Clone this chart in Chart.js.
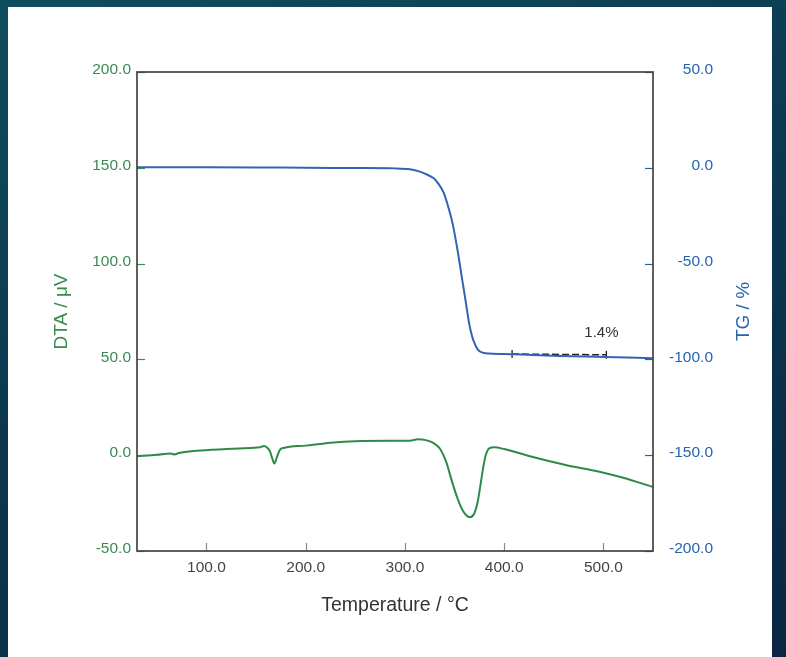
<!DOCTYPE html>
<html>
<head>
<meta charset="utf-8">
<script src="https://cdn.jsdelivr.net/npm/chart.js@4.4.1/dist/chart.umd.min.js"></script>
<style>
  html, body {
    margin: 0;
    padding: 0;
    width: 786px;
    height: 657px;
    overflow: hidden;
    background: linear-gradient(160deg, #0f4d5e 0%, #0b3850 45%, #0a2642 100%);
  }
  .card {
    position: absolute;
    left: 8px;
    top: 7px;
    width: 764px;
    height: 650px;
    background: #fff;
  }
  #myChart {
    position: absolute;
    left: 0;
    top: 0;
  }
</style>
</head>
<body>
<div class="card"></div>
<canvas id="myChart" width="786" height="657"></canvas>
<script>
// DTA curve (µV) vs temperature (°C)
const dtaTemp = [30, 50, 64, 68, 72, 90, 120, 145, 154, 158, 161, 164, 166, 168.5, 171, 174, 178, 200, 225, 250, 290, 305, 313, 320, 328, 335, 341.5, 348, 353, 358, 361.5, 365.5, 370, 373, 376, 378.5, 381, 385, 390, 400, 428, 462, 496, 520, 550];
const dtaValue = [-0.5, 0.2, 0.9, 0.4, 1.1, 2.3, 3.2, 3.8, 4.1, 4.8, 4.0, 2.0, -1.2, -4.3, -1.0, 2.8, 3.8, 5.0, 6.5, 7.3, 7.5, 7.6, 8.3, 8.0, 6.6, 3.6, -3.4, -14.7, -22.5, -28.6, -31.2, -32.4, -30.3, -25.1, -16.0, -7.7, -0.8, 3.6, 4.1, 3.2, -0.8, -5.1, -8.6, -11.8, -16.6];

// TG curve (%) vs temperature (°C)
const tgTemp = [30, 100, 150, 200, 250, 290, 305, 315, 322, 329, 334, 339, 344, 348, 353, 357, 361, 365, 368, 370, 373, 376, 380, 385, 410, 455, 503, 550];
const tgValue = [0.3, 0.3, 0.2, 0.0, -0.1, -0.3, -0.8, -2.0, -3.5, -5.5, -8.5, -13.0, -21.0, -29.0, -42.9, -56.0, -69.0, -82.0, -88.5, -91.4, -94.5, -96.0, -96.7, -96.9, -97.3, -98.2, -98.7, -99.4];

// mass loss marker
const stepTemp = [408, 503];
const stepValue = [-97.2, -97.6];
const stepLabel = "1.4%";
const stepLabelAt = [498, -86.2];

const tempTicks = [100, 200, 300, 400, 500];

const GREEN = "#3a8b50";
const BLUE = "#2764ae";
const FONT = "'Liberation Sans', Arial, Helvetica, sans-serif";

const toPoints = (xs, ys) => xs.map((x, i) => ({ x: x, y: ys[i] }));

// frame, inward tick marks, right axis title and the step label
const decorations = {
  id: "decorations",
  afterDatasetsDraw(chart) {
    const { ctx, chartArea: a, scales } = chart;
    ctx.save();

    ctx.lineWidth = 1.2;
    ctx.strokeStyle = "#8a8a8a";
    tempTicks.forEach((t) => {
      const x = Math.round(scales.x.getPixelForValue(t)) + 0.5;
      ctx.beginPath();
      ctx.moveTo(x, a.bottom);
      ctx.lineTo(x, a.bottom - 8);
      ctx.stroke();
    });

    ctx.strokeStyle = GREEN;
    scales.y.ticks.forEach((t) => {
      const y = Math.round(scales.y.getPixelForValue(t.value)) + 0.5;
      ctx.beginPath();
      ctx.moveTo(a.left, y);
      ctx.lineTo(a.left + 8, y);
      ctx.stroke();
    });

    ctx.strokeStyle = BLUE;
    scales.y2.ticks.forEach((t) => {
      const y = Math.round(scales.y2.getPixelForValue(t.value)) + 0.5;
      ctx.beginPath();
      ctx.moveTo(a.right - 8, y);
      ctx.lineTo(a.right, y);
      ctx.stroke();
    });

    ctx.lineWidth = 1.7;
    ctx.strokeStyle = "#444";
    ctx.strokeRect(a.left, a.top, a.right - a.left, a.bottom - a.top);

    ctx.fillStyle = "#333";
    ctx.font = "15px " + FONT;
    ctx.textAlign = "center";
    ctx.textBaseline = "middle";
    ctx.fillText(
      stepLabel,
      scales.x.getPixelForValue(stepLabelAt[0]),
      scales.y2.getPixelForValue(stepLabelAt[1])
    );

    ctx.fillStyle = BLUE;
    ctx.font = "19px " + FONT;
    ctx.translate(744, (a.top + a.bottom) / 2);
    ctx.rotate(-Math.PI / 2);
    ctx.fillText("TG / %", 0, 0);
    ctx.restore();
  },
};

const ctx = document.getElementById("myChart");

new Chart(ctx, {
  type: "line",
  data: {
    datasets: [
      {
        label: "DTA",
        data: toPoints(dtaTemp, dtaValue),
        yAxisID: "y",
        borderColor: "#2f8a46",
        borderWidth: 2,
        pointRadius: 0,
        cubicInterpolationMode: "monotone",
        fill: false,
      },
      {
        label: "TG",
        data: toPoints(tgTemp, tgValue),
        yAxisID: "y2",
        borderColor: "#3463b6",
        borderWidth: 2,
        pointRadius: 0,
        cubicInterpolationMode: "monotone",
        fill: false,
      },
      {
        label: "step",
        data: toPoints(stepTemp, stepValue),
        yAxisID: "y2",
        borderColor: "#222",
        borderWidth: 1.5,
        borderDash: [7, 3],
        pointStyle: "line",
        rotation: 90,
        pointRadius: 4,
        pointBorderColor: "#222",
        pointBorderWidth: 1.3,
        fill: false,
      },
    ],
  },
  options: {
    responsive: false,
    devicePixelRatio: 1,
    animation: false,
    layout: {
      padding: { left: 37, right: 73, top: 72, bottom: 6 },
    },
    plugins: {
      legend: { display: false },
      tooltip: { enabled: false },
    },
    scales: {
      x: {
        type: "linear",
        min: 30,
        max: 550,
        afterBuildTicks: (scale) => {
          scale.ticks = tempTicks.map((v) => ({ value: v }));
        },
        afterFit: (scale) => {
          scale.height = 100;
        },
        grid: { display: false, drawTicks: false },
        border: { display: false },
        ticks: {
          padding: 7,
          color: "#444",
          font: { family: FONT, size: 15.5 },
          callback: (v) => v.toFixed(1),
        },
        title: {
          display: true,
          text: "Temperature / °C",
          color: "#333",
          font: { family: FONT, size: 19.5 },
          padding: { top: 0, bottom: 34 },
        },
      },
      y: {
        position: "left",
        min: -50,
        max: 200,
        afterFit: (scale) => {
          scale.width = 100;
        },
        grid: { display: false, drawTicks: false },
        border: { display: false },
        ticks: {
          stepSize: 50,
          padding: 6,
          labelOffset: -2,
          color: GREEN,
          font: { family: FONT, size: 15.5 },
          callback: (v) => v.toFixed(1),
        },
        title: {
          display: true,
          text: "DTA / μV",
          color: GREEN,
          font: { family: FONT, size: 19 },
          padding: { top: 13, bottom: 0 },
        },
      },
      y2: {
        position: "right",
        min: -200,
        max: 50,
        afterFit: (scale) => {
          scale.width = 60;
        },
        grid: { display: false, drawTicks: false },
        border: { display: false },
        ticks: {
          stepSize: 50,
          padding: 16,
          labelOffset: -2,
          crossAlign: "far",
          color: BLUE,
          font: { family: FONT, size: 15.5 },
          callback: (v) => v.toFixed(1),
        },
      },
    },
  },
  plugins: [decorations],
});
</script>
</body>
</html>
